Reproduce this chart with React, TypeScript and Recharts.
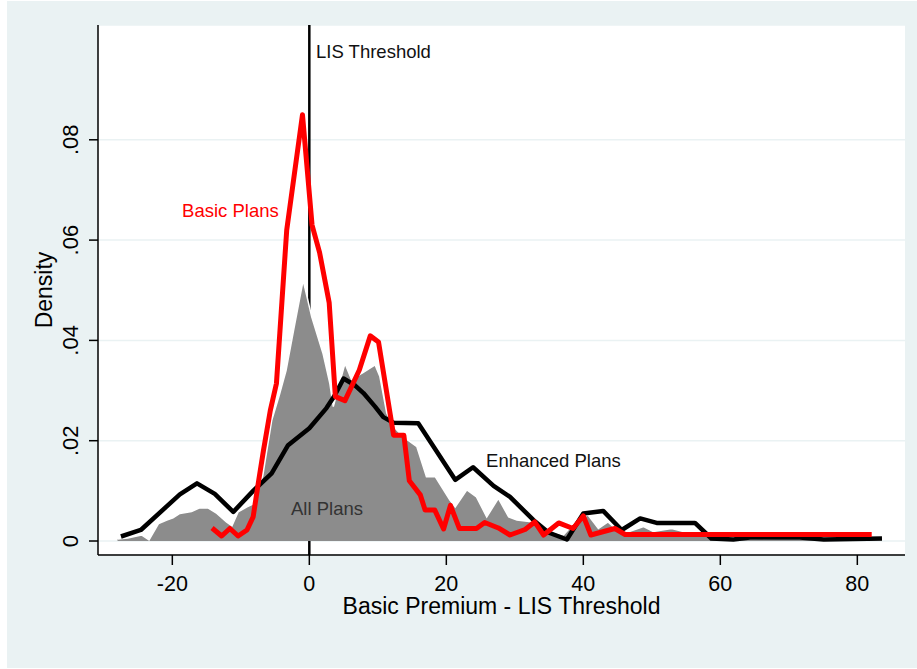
import {
  ComposedChart,
  Area,
  Line,
  XAxis,
  YAxis,
  CartesianGrid,
  ReferenceLine,
  ReferenceDot,
  Label,
} from "recharts";

const FONT = '"Liberation Sans", Arial, Helvetica, sans-serif';

// kernel density of (basic premium - LIS threshold), all plans
const allPlansPremium = [
  -28, -26.5, -24.5, -23.4, -22, -20.8, -19.9, -18.9, -17.2, -16, -14.8, -13.5,
  -12.1, -11.3, -10.4, -9.1, -8.2, -6.8, -5.5, -4.4, -3.4, -2.3, -0.9, 0.35, 2.0,
  3.0, 3.5, 5.2, 6.2, 7.6, 9.6, 10.3, 11.3, 12.3, 13.7, 15.7, 17.1, 18.4, 20.5,
  21.3, 23.0, 24.4, 25.9, 27.6, 29.1, 30.3, 32.7, 33.7, 35.4, 37.1, 39.3, 40.7,
  42.2, 43.6, 44.9, 46.5, 48.8, 50.2, 52.9, 54.6, 57.0, 60.0, 65, 70, 75, 80, 83.5,
];
const allPlansDensity = [
  0.0004, 0.0006, 0.0012, 0.0002, 0.0035, 0.0042, 0.0046, 0.0055, 0.0059, 0.0066,
  0.0066, 0.0055, 0.0038, 0.003, 0.0058, 0.0068, 0.0074, 0.013, 0.024, 0.029, 0.034,
  0.042, 0.052, 0.0447, 0.0374, 0.0314, 0.0268, 0.0354, 0.0321, 0.0334, 0.0351,
  0.0328, 0.0255, 0.0228, 0.0208, 0.0188, 0.0128, 0.0128, 0.0082, 0.0068, 0.0102,
  0.0088, 0.0048, 0.0085, 0.0048, 0.0042, 0.0038, 0.0025, 0.0019, 0.0012, 0.0045,
  0.0052, 0.0025, 0.0038, 0.0022, 0.0018, 0.0029, 0.0019, 0.0025, 0.0019, 0.0015,
  0.0006, 0.0004, 0.0005, 0.0003, 0.0003, 0.0002,
];

// basic plans only
const basicPremium = [
  -14.2, -12.8, -11.6, -10.4, -9.1, -8.2, -7.4, -6.7, -5.7, -4.8, -3.3, -1.0, 0.4,
  1.5, 2.9, 3.8, 5.2, 7.3, 8.9, 10.1, 11.9, 12.3, 13.8, 14.6, 16.2, 16.9, 18.3, 19.6,
  20.6, 21.9, 24.4, 25.6, 27.6, 29.3, 31.5, 32.9, 34.2, 36.4, 38.5, 40.0, 41.1, 44.6,
  46.1, 82.1,
];
const basicDensity = [
  0.0026, 0.001, 0.0025, 0.001, 0.0022, 0.0048, 0.012, 0.018, 0.026, 0.0314, 0.062,
  0.085, 0.063, 0.0575, 0.0475, 0.0288, 0.028, 0.0341, 0.0409, 0.0397, 0.0245,
  0.0211, 0.0211, 0.012, 0.0092, 0.0062, 0.0062, 0.0024, 0.0071, 0.0025, 0.0025,
  0.0037, 0.0026, 0.0012, 0.0023, 0.0038, 0.0012, 0.0036, 0.0025, 0.005, 0.0012,
  0.0025, 0.0013, 0.0013,
];

// enhanced plans only
const enhancedPremium = [
  -27.5, -24.6, -18.9, -16.4, -13.8, -11.1, -8.2, -5.5, -3.1, 0, 2.5, 3.7, 5.0, 6.7,
  7.9, 9.6, 10.8, 12.3, 15.9, 21.3, 23.9, 26.9, 29.3, 32.7, 34.9, 37.6, 40.0, 42.9,
  45.6, 48.3, 50.7, 56.3, 58.7, 61.9, 64.3, 71.6, 75.1, 83.6,
];
const enhancedDensity = [
  0.0009, 0.0022, 0.0093, 0.0115, 0.0094, 0.0058, 0.01, 0.0135, 0.0191, 0.0225,
  0.0265, 0.029, 0.0324, 0.031, 0.0295, 0.0268, 0.0247, 0.0236, 0.0235, 0.0122,
  0.0147, 0.011, 0.0088, 0.0042, 0.0017, 0.0003, 0.0055, 0.006, 0.0022, 0.0045,
  0.0036, 0.0036, 0.0005, 0.0003, 0.0007, 0.0007, 0.0003, 0.0005,
];

const xTicks = [-20, 0, 20, 40, 60, 80];
const yTicks = [0, 0.02, 0.04, 0.06, 0.08];
const lisThreshold = 0;

type Row = { x: number; all?: number; basic?: number; enhanced?: number };

function buildRows(): Row[] {
  const rows = new Map<number, Row>();
  const add = (xs: number[], ys: number[], key: "all" | "basic" | "enhanced") => {
    xs.forEach((x, i) => {
      const row = rows.get(x) ?? { x };
      row[key] = ys[i];
      rows.set(x, row);
    });
  };
  add(allPlansPremium, allPlansDensity, "all");
  add(basicPremium, basicDensity, "basic");
  add(enhancedPremium, enhancedDensity, "enhanced");
  return [...rows.values()].sort((a, b) => a.x - b.x);
}

const data = buildRows();

function fmtDensity(v: number): string {
  return v === 0 ? "0" : v.toFixed(2).replace(/^0/, "");
}

// Stata-style y labels, turned to read bottom-up
function YTick({ x, y, payload }: any) {
  return (
    <text
      x={x}
      y={y}
      transform={`rotate(-90, ${x}, ${y})`}
      textAnchor="middle"
      fontSize={22}
      fontFamily={FONT}
      fill="#000"
    >
      {fmtDensity(payload.value)}
    </text>
  );
}

function YTitle({ viewBox }: any) {
  const cx = viewBox.x + 44.5;
  const cy = viewBox.y + viewBox.height / 2;
  return (
    <text
      x={cx}
      y={cy}
      transform={`rotate(-90, ${cx}, ${cy})`}
      textAnchor="middle"
      fontSize={23}
      fontFamily={FONT}
      fill="#000"
    >
      Density
    </text>
  );
}

function note(value: string, fill: string) {
  return { value, position: "right" as const, fill, fontSize: 18.5, fontFamily: FONT };
}

export default function App() {
  return (
    <div style={{ position: "absolute", left: 0, top: 0, width: 917, height: 669, background: "#fff" }}>
      <div style={{ position: "absolute", left: 7, top: 1, width: 910, height: 667, background: "#eaf2f3" }}>
        <ComposedChart
          width={910}
          height={667}
          data={data}
          margin={{ top: 24, right: 12, bottom: 83, left: 0 }}
        >
          <CartesianGrid
            vertical={false}
            fill="#ffffff"
            stroke="#eaf2f3"
            strokeWidth={1.5}
          />
          {/* threshold line goes under the density area, like an xline() */}
          <ReferenceLine x={lisThreshold} stroke="#000" strokeWidth={2.5} zIndex={50} />
          <XAxis
            dataKey="x"
            type="number"
            domain={[-30.85, 86.96]}
            allowDataOverflow
            ticks={xTicks}
            height={30}
            tickSize={10}
            tickMargin={11}
            tick={{ fill: "#000", fontSize: 21.5, fontFamily: FONT }}
            tickLine={{ stroke: "#000", strokeWidth: 1.5 }}
            axisLine={{ stroke: "#000", strokeWidth: 1.5 }}
          >
            <Label
              value="Basic Premium - LIS Threshold"
              position="bottom"
              offset={13}
              fill="#000"
              fontSize={23}
              fontFamily={FONT}
            />
          </XAxis>
          <YAxis
            type="number"
            domain={[-0.00279, 0.10289]}
            allowDataOverflow
            ticks={yTicks}
            width={91}
            tickSize={9}
            tickMargin={11}
            tick={<YTick />}
            tickLine={{ stroke: "#000", strokeWidth: 1.5 }}
            axisLine={{ stroke: "#000", strokeWidth: 1.5 }}
          >
            <Label content={<YTitle />} />
          </YAxis>
          <Area
            dataKey="all"
            type="linear"
            baseValue={0}
            connectNulls
            fill="#8c8c8c"
            fillOpacity={1}
            stroke="#ffffff"
            strokeWidth={1.5}
            dot={false}
            activeDot={false}
            isAnimationActive={false}
            zIndex={100}
          />
          <Line
            dataKey="enhanced"
            type="linear"
            connectNulls
            stroke="#000"
            strokeWidth={4.5}
            strokeLinejoin="round"
            dot={false}
            activeDot={false}
            isAnimationActive={false}
          />
          <Line
            dataKey="basic"
            type="linear"
            connectNulls
            stroke="#ff0000"
            strokeWidth={5}
            strokeLinejoin="round"
            dot={false}
            activeDot={false}
            isAnimationActive={false}
          />
          <ReferenceDot x={0.25} y={0.0977} r={0} fill="none" stroke="none" ifOverflow="visible" label={note("LIS Threshold", "#111")} />
          <ReferenceDot x={-19.3} y={0.066} r={0} fill="none" stroke="none" ifOverflow="visible" label={note("Basic Plans", "#ff0000")} />
          <ReferenceDot x={25.07} y={0.01615} r={0} fill="none" stroke="none" ifOverflow="visible" label={note("Enhanced Plans", "#111")} />
          <ReferenceDot x={-3.4} y={0.00658} r={0} fill="none" stroke="none" ifOverflow="visible" label={note("All Plans", "#333")} />
        </ComposedChart>
      </div>
    </div>
  );
}
